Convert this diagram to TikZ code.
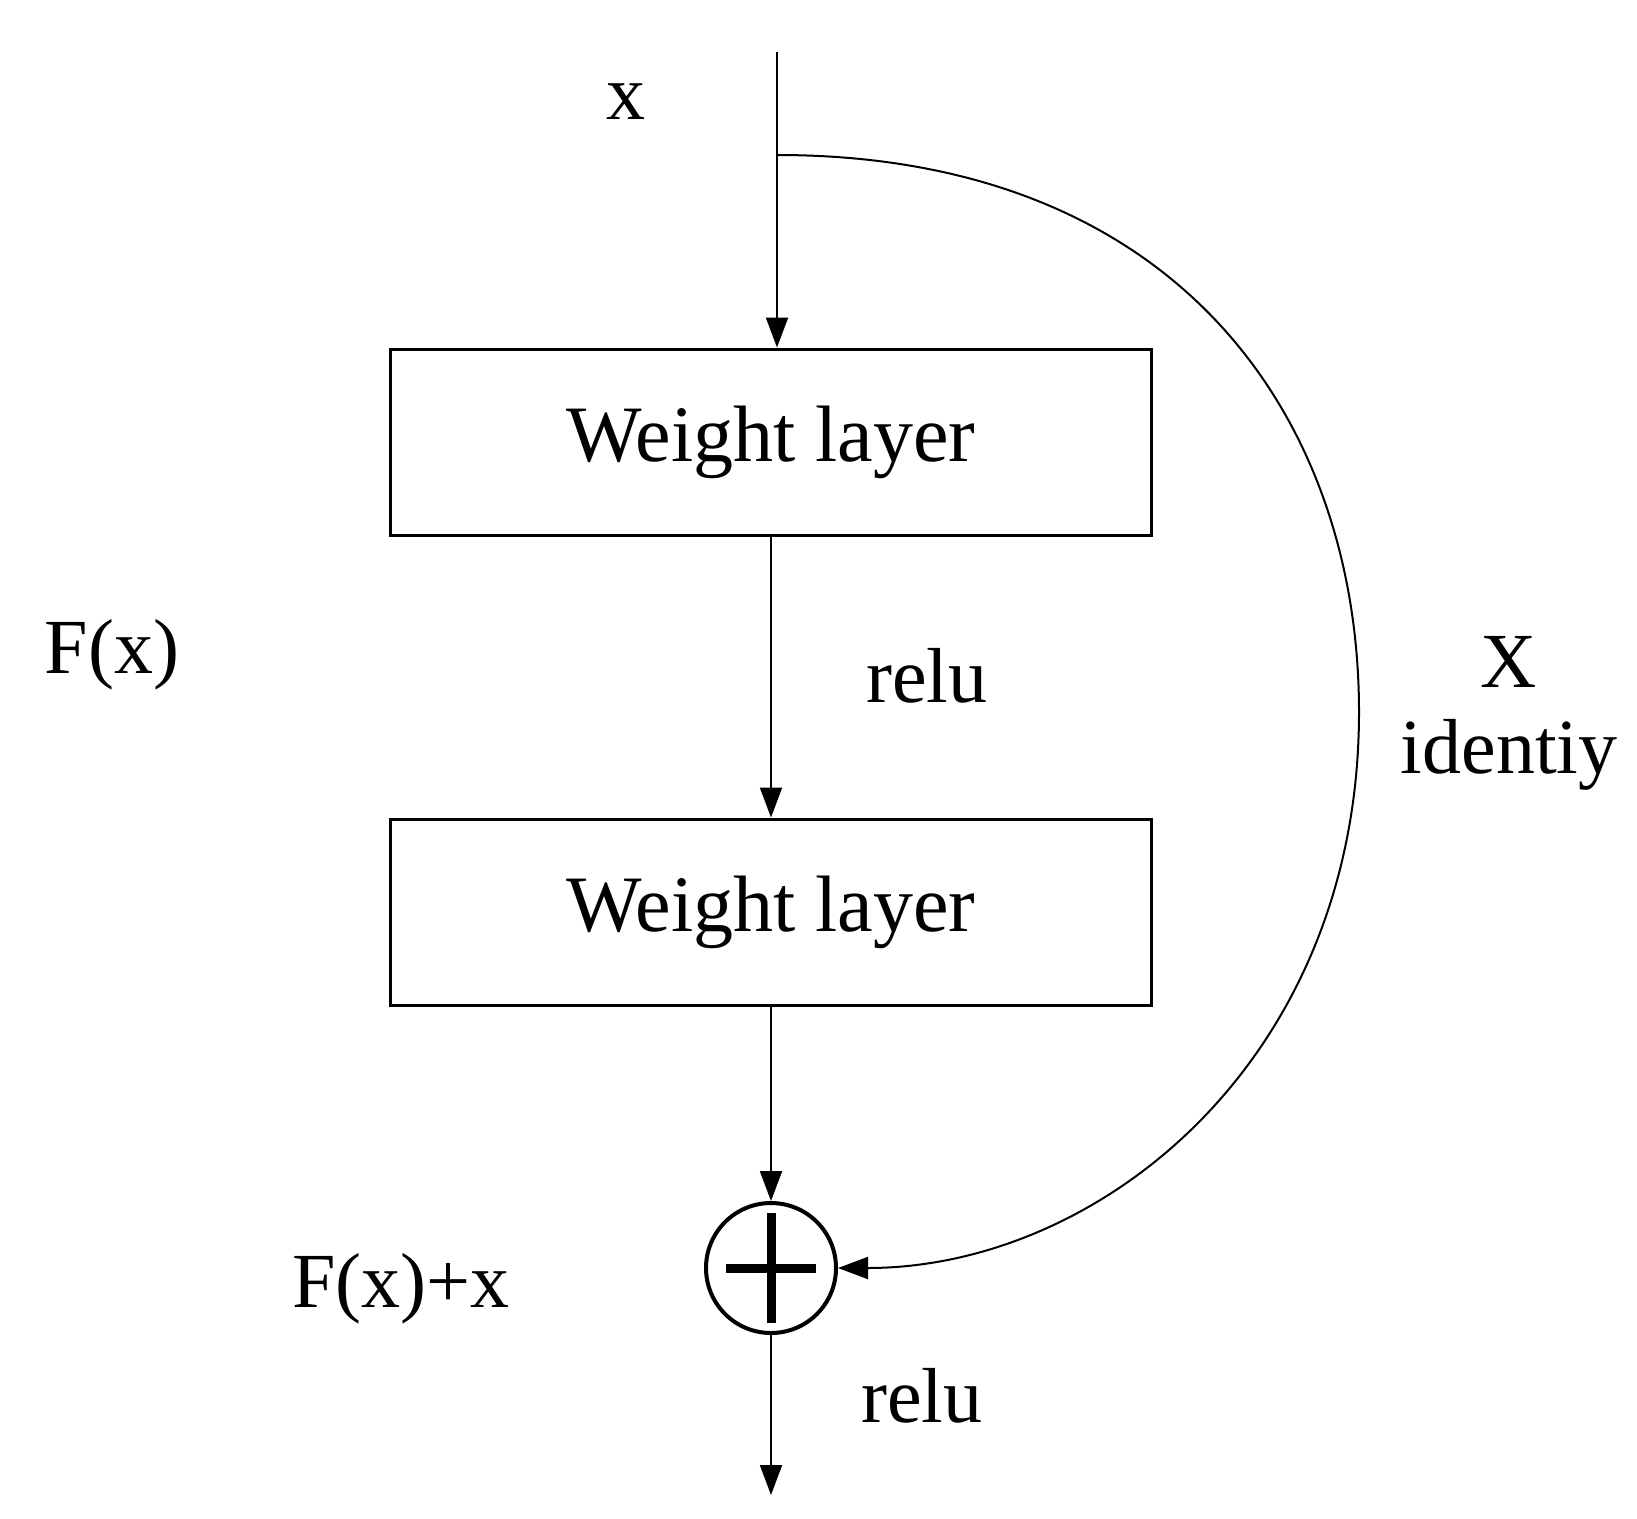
\documentclass[tikz,border=0pt]{standalone}
\usepackage{fontspec}
\setmainfont{Liberation Serif}
\usetikzlibrary{arrows.meta}
\begin{document}
\begin{tikzpicture}[x=1pt,y=-1pt,
  lbl/.style={font=\fontsize{78}{90}\selectfont,inner sep=0pt},
  wbox/.style={draw,line width=3pt,minimum width=761pt,minimum height=186pt,font=\fontsize{80}{90}\selectfont},
  arr/.style={line width=2pt,-{Triangle[length=30pt,width=22pt]}}]
\useasboundingbox (0,0) rectangle (1637,1518);
\node[wbox] (w1) at (771,442) {Weight layer};
\node[wbox] (w2) at (771,912) {Weight layer};
\node[draw,circle,line width=4pt,minimum size=130pt,inner sep=0pt] (add) at (771,1268) {};
\draw[line width=9pt] (add.center)+(-45,0) -- +(45,0);
\draw[line width=9pt] (add.center)+(0,-55) -- +(0,55);
\coordinate (top) at (777,52);
\coordinate (split) at (777,155);
\coordinate (out) at (771,1495);
\draw[arr] (top) -- (w1.north -| top);
\draw[arr] (w1.south) -- (w2.north);
\draw[arr] (w2.south) -- (add.north);
\draw[arr] (add.south) -- (out);
\draw[arr] (split) .. controls (1180,155) and (1359,420) .. (1359,712)
  .. controls (1359,1060) and (1100,1268) .. (add.east);
\node[lbl] (lx) at (626,102) {x};
\node[lbl] (lf) at (112,655) {F(x)};
\node[lbl] (r1) at (927,676) {relu};
\node[lbl] (lX) at (1509,662) {X};
\node[lbl] (lid) at (1509,755) {identiy};
\node[lbl] (lfx) at (401,1289) {F(x)+x};
\node[lbl] (r2) at (922,1396) {relu};
\end{tikzpicture}
\end{document}
